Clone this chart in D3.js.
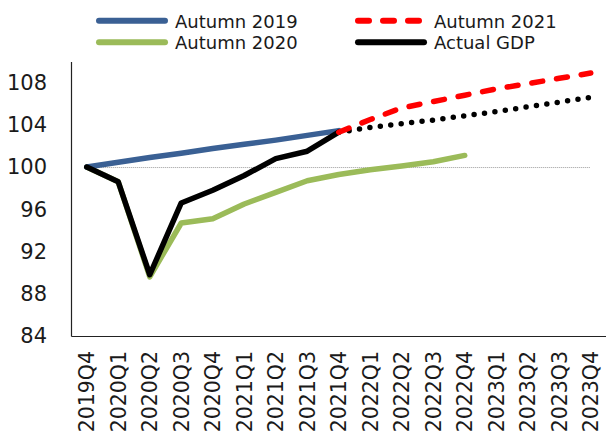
<!DOCTYPE html>
<html>
<head>
<meta charset="utf-8">
<script src="https://cdn.jsdelivr.net/npm/d3@7"></script>
<style>
  body { margin: 0; background: #fff; }
  svg { display: block; font-family: "DejaVu Sans", Verdana, sans-serif; }
  .tick text { fill: #1a1a1a; }
</style>
</head>
<body>
<div id="chart"></div>
<script>
// ================= data =================
var quarters = ["2019Q4","2020Q1","2020Q2","2020Q3","2020Q4","2021Q1","2021Q2","2021Q3","2021Q4",
                "2022Q1","2022Q2","2022Q3","2022Q4","2023Q1","2023Q2","2023Q3","2023Q4"];

// forecasts (index 100 = 2019Q4)
var autumn2019 = [100, 100.45, 100.9, 101.3, 101.75, 102.15, 102.55, 103.0, 103.45];            // 2019Q4..2021Q4
var autumn2020 = [100, 98.6, 89.6, 94.7, 95.1, 96.5, 97.6, 98.7, 99.3, 99.75, 100.1, 100.5, 101.1]; // 2019Q4..2022Q4
var autumn2021 = [103.3, 104.5, 105.6, 106.2, 106.8, 107.4, 107.9, 108.4, 108.9];             // 2021Q4..2023Q4
var actualGdp  = [100, 98.6, 89.8, 96.6, 97.8, 99.2, 100.8, 101.5, 103.3];                     // 2019Q4..2021Q4
var gdpTrend   = [103.3, 103.75, 104.1, 104.45, 104.85, 105.25, 105.7, 106.15, 106.6];         // 2021Q4..2023Q4 (dotted)

var yTicks = [84, 88, 92, 96, 100, 104, 108];
var refLevel = 100;

var legendNames = ["Autumn 2019", "Autumn 2021", "Autumn 2020", "Actual GDP"];

// ================= layout =================
var width = 606, height = 436;
var left = 71, bottom = 336;

var svg = d3.select("#chart").append("svg")
    .attr("width", width)
    .attr("height", height);

var x = d3.scaleBand()
    .domain(quarters)
    .range([left, left + quarters.length * 31.5])
    .padding(0);

var y = d3.scaleLinear()
    .domain([84, 110])
    .range([bottom, bottom - 26 * 10.56]);

function cx(q) { return x(q) + x.bandwidth() / 2; }

// series starting at a given quarter
function toPoints(values, startIndex) {
    return values.map(function(v, i) { return { q: quarters[startIndex + i], v: v }; });
}

var line = d3.line()
    .x(function(d) { return cx(d.q); })
    .y(function(d) { return y(d.v); });

//reference line at 100
svg.append("line")
    .attr("x1", cx(quarters[0]))
    .attr("x2", cx(quarters[quarters.length - 1]))
    .attr("y1", y(refLevel) + 0.5)
    .attr("y2", y(refLevel) + 0.5)
    .attr("stroke", "#9a9a9a")
    .attr("stroke-width", 1)
    .attr("stroke-dasharray", "1,1");

// ================= axes =================
var yAxis = d3.axisLeft(y)
    .tickValues(yTicks)
    .tickSize(0)
    .tickPadding(24);

var gy = svg.append("g")
    .attr("transform", "translate(" + left + ",0)")
    .call(yAxis);
gy.select(".domain").attr("stroke", "#222").attr("stroke-width", 1.2);
gy.selectAll("text").attr("font-size", 21).attr("font-family", "DejaVu Sans");

var xAxis = d3.axisBottom(x).tickSize(0);

var gx = svg.append("g")
    .attr("transform", "translate(0," + bottom + ")")
    .call(xAxis);
gx.select(".domain").attr("stroke", "#222").attr("stroke-width", 1.2);
gx.selectAll("text")
    .attr("font-size", 20.5)
    .attr("font-family", "DejaVu Sans")
    .attr("transform", "rotate(-90)")
    .attr("x", -15)
    .attr("y", 0)
    .attr("dy", "0.36em")
    .style("text-anchor", "end");

// ================= lines =================
var styles = {
    "Autumn 2019": { color: "#3a6094", dash: null, cap: "round" },
    "Autumn 2020": { color: "#9bbb59", dash: null, cap: "round" },
    "Autumn 2021": { color: "#ff0000", dash: "11,14", cap: "round" },
    "Actual GDP":  { color: "#000000", dash: null, cap: "round" }
};

function drawLine(pts, color, dash, w) {
    svg.append("path")
        .datum(pts)
        .attr("d", line)
        .attr("fill", "none")
        .attr("stroke", color)
        .attr("stroke-width", w)
        .attr("stroke-linecap", "round")
        .attr("stroke-linejoin", "round")
        .attr("stroke-dasharray", dash);
}

drawLine(toPoints(autumn2020, 0), styles["Autumn 2020"].color, null, 5.5);
drawLine(toPoints(autumn2019, 0), styles["Autumn 2019"].color, null, 5.5);
drawLine(toPoints(actualGdp, 0), styles["Actual GDP"].color, null, 5.5);
drawLine(toPoints(gdpTrend, 8), "#000000", "0,10.5", 5.5);
drawLine(toPoints(autumn2021, 8), styles["Autumn 2021"].color, styles["Autumn 2021"].dash, 5.5);

// ================= legend =================
var legend = svg.append("g").attr("class", "legend");
legendNames.forEach(function(name, i) {
    var col = i % 2, row = Math.floor(i / 2);
    var lx = col === 0 ? 96 : 355;
    var ly = 20.7 + row * 21.6;
    var s = styles[name];
    legend.append("line")
        .attr("x1", lx + 3).attr("x2", lx + 69)
        .attr("y1", ly).attr("y2", ly)
        .attr("stroke", s.color)
        .attr("stroke-width", 6)
        .attr("stroke-linecap", "round")
        .attr("stroke-dasharray", s.dash);
    legend.append("text")
        .attr("x", lx + 79)
        .attr("y", ly + 7)
        .attr("font-size", 18)
        .attr("fill", "#1a1a1a")
        .text(name);
});
</script>
</body>
</html>
